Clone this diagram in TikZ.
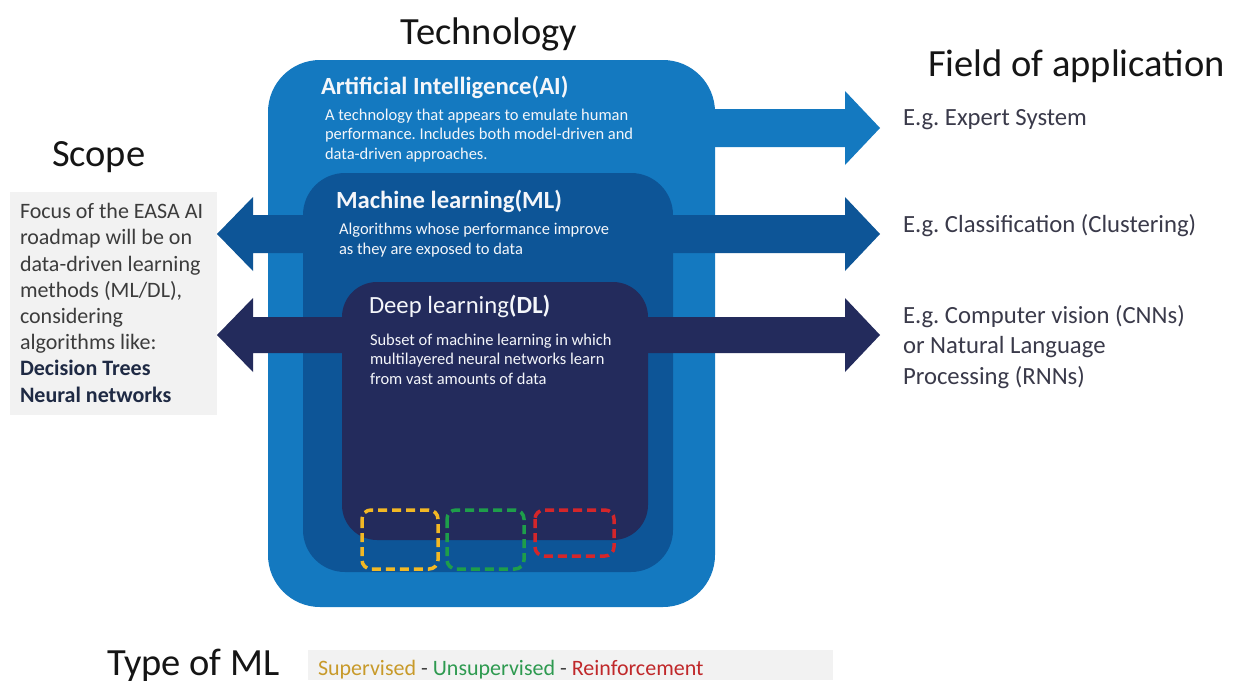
\documentclass[tikz,border=0pt]{standalone}
\usepackage{fontspec}
\setmainfont{Carlito}
\frenchspacing
\definecolor{aiblue}{HTML}{1479C0}
\definecolor{mlblue}{HTML}{0D5597}
\definecolor{dlnavy}{HTML}{232B5C}
\definecolor{graybg}{HTML}{F2F2F2}
\definecolor{bodytxt}{HTML}{3C3C3C}
\definecolor{boldtxt}{HTML}{1F2A44}
\definecolor{righttxt}{HTML}{3A3A4A}
\definecolor{headtxt}{HTML}{151515}
\definecolor{boxtxt}{HTML}{F4F6FA}
\definecolor{supc}{HTML}{C89A2A}
\definecolor{unsc}{HTML}{2E9A50}
\definecolor{reic}{HTML}{C0282A}
\definecolor{sepc}{HTML}{404040}
\definecolor{dashyellow}{HTML}{F2B824}
\definecolor{dashgreen}{HTML}{1E9E4A}
\definecolor{dashred}{HTML}{D4262A}
\begin{document}
\begin{tikzpicture}[x=1pt,y=-1pt,
  txt/.style={anchor=base west,inner sep=0pt,outer sep=0pt},
  heading/.style={txt,text=headtxt,font=\fontsize{38.5}{44}\selectfont},
  boxtitle/.style={txt,text=boxtxt,font=\fontsize{24.7}{28}\selectfont\bfseries},
  boxdesc/.style={txt,text=boxtxt,align=left,font=\fontsize{16.5}{19.2}\selectfont},
  fieldtxt/.style={txt,text=righttxt,align=left,font=\fontsize{24.7}{30.5}\selectfont},
  layer/.style={anchor=north west,inner sep=0pt,outer sep=0pt},
  typebox/.style={line width=3.5pt,dash pattern=on 9pt off 5pt,rounded corners=9pt}
]
\useasboundingbox (0,0) rectangle (1234,680);
\fill[white] (0,0) rectangle (1234,680);

% scope background box
\node[layer,fill=graybg,minimum width=207pt,minimum height=223pt] (scopebox) at (10,192) {};
% legend background box
\node[layer,fill=graybg,minimum width=525pt,minimum height=30pt] (legendbox) at (308,650) {};

% AI layer
\node[layer,fill=aiblue,rounded corners=52pt,minimum width=447pt,minimum height=547pt] (ai) at (268,60) {};
\coordinate (aitip) at (880,128);
\fill[aiblue] (600,109) -- (845,109) -- (845,91) -- (aitip) -- (845,165) -- (845,147) -- (600,147) -- cycle;

% ML double arrow and layer
\coordinate (mlleft) at (217,234);
\coordinate (mlright) at (880,234);
\fill[mlblue] (mlleft) -- (253,197) -- (253,215) -- (845,215) -- (845,197) -- (mlright) -- (845,271) -- (845,253) -- (253,253) -- (253,271) -- cycle;
\node[layer,fill=mlblue,rounded corners=42pt,minimum width=370pt,minimum height=399pt] (ml) at (303,173) {};

% DL double arrow and layer
\coordinate (dlleft) at (217,335);
\coordinate (dlright) at (880,335);
\fill[dlnavy] (dlleft) -- (253,298) -- (253,317) -- (845,317) -- (845,298) -- (dlright) -- (845,372) -- (845,353) -- (253,353) -- (253,372) -- cycle;
\node[layer,fill=dlnavy,rounded corners=35pt,minimum width=306pt,minimum height=258pt] (dl) at (342,282) {};

% type-of-ML dashed boxes
\draw[typebox,dashyellow] (362,510) rectangle (438,569);
\draw[typebox,dashgreen] (447,510) rectangle (524,569);
\draw[typebox,dashred] (535,510) rectangle (614,556);

% headings
\node[heading,anchor=base] (tech) at (489,44) {Technology};
\node[heading] (field) at (928,76) {Field of application};
\node[heading] (scope) at (52,166) {Scope};
\node[heading] (type) at (107,675) {Type of ML};

% box texts (multi-line nodes: base = last line)
\node[boxtitle] (aititle) at (321,94) {Artificial Intelligence(AI)};
\node[boxdesc] (aidesc) at (325,159) {A technology that appears to emulate human\\performance. Includes both model-driven and\\data-driven approaches.};
\node[boxtitle] (mltitle) at (336,208) {Machine learning(ML)};
\node[boxdesc] (mldesc) at (339,254) {Algorithms whose performance improve\\as they are exposed to data};
\node[boxtitle] (dltitle) at (369,313) {\mdseries Deep learning\bfseries(DL)};
\node[boxdesc] (dldesc) at (370,384) {Subset of machine learning in which\\multilayered neural networks learn\\from vast amounts of data};

% scope text
\node[txt,text=bodytxt,align=left,font=\fontsize{22}{26.2}\selectfont] (scopetxt) at (20,402) {Focus of the EASA AI\\roadmap will be on\\data-driven learning\\methods (ML/DL),\\considering\\algorithms like:\\\textcolor{boldtxt}{\bfseries Decision Trees}\\\textcolor{boldtxt}{\bfseries Neural networks}};

% field of application texts
\node[fieldtxt] (f1) at (903,125) {E.g. Expert System};
\node[fieldtxt] (f2) at (903,232) {E.g. Classification (Clustering)};
\node[fieldtxt] (f3) at (903,384) {E.g. Computer vision (CNNs)\\or Natural Language\\Processing (RNNs)};

% legend
\node[txt,font=\fontsize{22}{26}\selectfont] (legend) at (318,675) {\textcolor{supc}{Supervised}\textcolor{sepc}{\ -\ }\textcolor{unsc}{Unsupervised}\textcolor{sepc}{\ -\ }\textcolor{reic}{Reinforcement}};
\end{tikzpicture}
\end{document}
